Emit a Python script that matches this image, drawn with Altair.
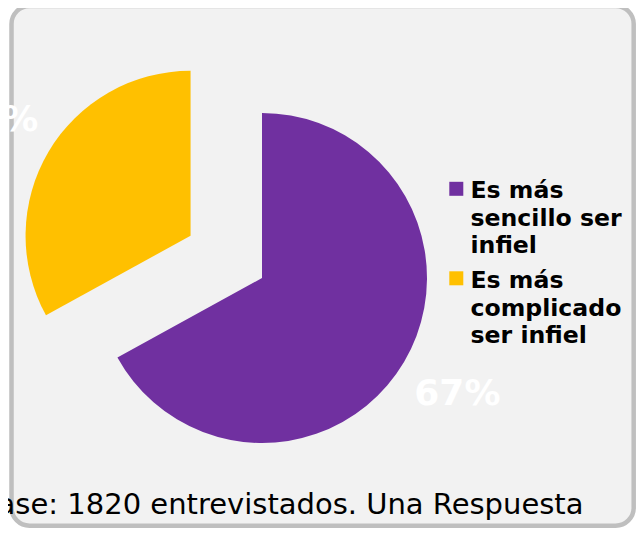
import altair as alt
import pandas as pd

# ---- data ----
CATEGORIES = ["Es más sencillo ser infiel", "Es más complicado ser infiel"]
VALUES = [67, 33]
LEGEND_LINES = [["Es más", "sencillo ser", "infiel"], ["Es más", "complicado", "ser infiel"]]
COLORS = ["#7030a0", "#ffc000"]
NOTE = "Base: 1820 entrevistados. Una Respuesta"

W, H = 628, 520
CX, CY, R = 254, 270, 165
EXPLODE = 83
LABEL_R = 227

pie_df = pd.DataFrame({"idx": list(range(len(VALUES))), "cat": CATEGORIES, "value": VALUES})
leg_df = pd.DataFrame({"idx": list(range(len(CATEGORIES))), "cat": CATEGORIES, "lines": LEGEND_LINES})
note_df = pd.DataFrame({"note": [NOTE]})

color = alt.Color("cat:N", scale=alt.Scale(domain=CATEGORIES, range=COLORS), legend=None)

frame = alt.Chart(note_df).mark_rect(
    fill="#f2f2f2", stroke="#bfbfbf", strokeWidth=4.5, cornerRadius=18
).encode(
    x=alt.value(3.5), x2=alt.value(625.7), y=alt.value(-2), y2=alt.value(517.7)
)

pie_base = alt.Chart(pie_df).transform_window(
    cum="sum(value)", sort=[alt.SortField("idx")], frame=[None, 0]
).transform_joinaggregate(
    total="sum(value)"
).transform_calculate(
    t0="2*PI*(datum.cum - datum.value)/datum.total",
    t1="2*PI*datum.cum/datum.total",
).transform_calculate(
    mid="(datum.t0 + datum.t1)/2",
    ex=f"datum.value < datum.total/2 ? {EXPLODE} : 0",
).transform_calculate(
    cx=f"{CX} + datum.ex*sin(datum.mid)",
    cy=f"{CY} - datum.ex*cos(datum.mid)",
).transform_calculate(
    lx=f"datum.cx + {LABEL_R}*sin(datum.mid)",
    ly=f"datum.cy - {LABEL_R}*cos(datum.mid)",
    label="format(datum.value, 'd') + '%'",
)

arcs = pie_base.mark_arc(radius=R).encode(
    x=alt.X("cx:Q", scale=None, axis=None),
    y=alt.Y("cy:Q", scale=None, axis=None),
    theta=alt.Theta("t0:Q", scale=None),
    theta2="t1:Q",
    color=color,
)

labels = pie_base.mark_text(
    font="DejaVu Sans", fontWeight="bold", fontSize=36, color="white",
    align="center", baseline="middle"
).encode(
    x=alt.X("lx:Q", scale=None, axis=None),
    y=alt.Y("ly:Q", scale=None, axis=None),
    text="label:N",
)

leg_base = alt.Chart(leg_df).transform_calculate(
    sy="180.8 + datum.idx*89.5",
    ty="190.3 + datum.idx*90",
)

leg_sym = leg_base.mark_square(size=196, opacity=1).encode(
    x=alt.value(448.3),
    y=alt.Y("sy:Q", scale=None, axis=None),
    color=color,
)

leg_txt = leg_base.mark_text(
    font="DejaVu Sans", fontWeight="bold", fontSize=23.6, color="black",
    align="left", baseline="alphabetic", lineHeight=27.5
).encode(
    x=alt.value(462.5),
    y=alt.Y("ty:Q", scale=None, axis=None),
    text="lines",
)

note = alt.Chart(note_df).mark_text(
    font="DejaVu Sans", fontSize=29, color="black", align="right", baseline="alphabetic"
).encode(
    x=alt.value(575.5), y=alt.value(506.3), text="note:N"
)

chart = alt.layer(frame, arcs, labels, leg_sym, leg_txt, note).properties(
    width=W, height=H, autosize="none", padding=0, background="white"
).configure_view(stroke=None)

chart.save("out.html", embed_options={"renderer": "svg", "actions": False})
